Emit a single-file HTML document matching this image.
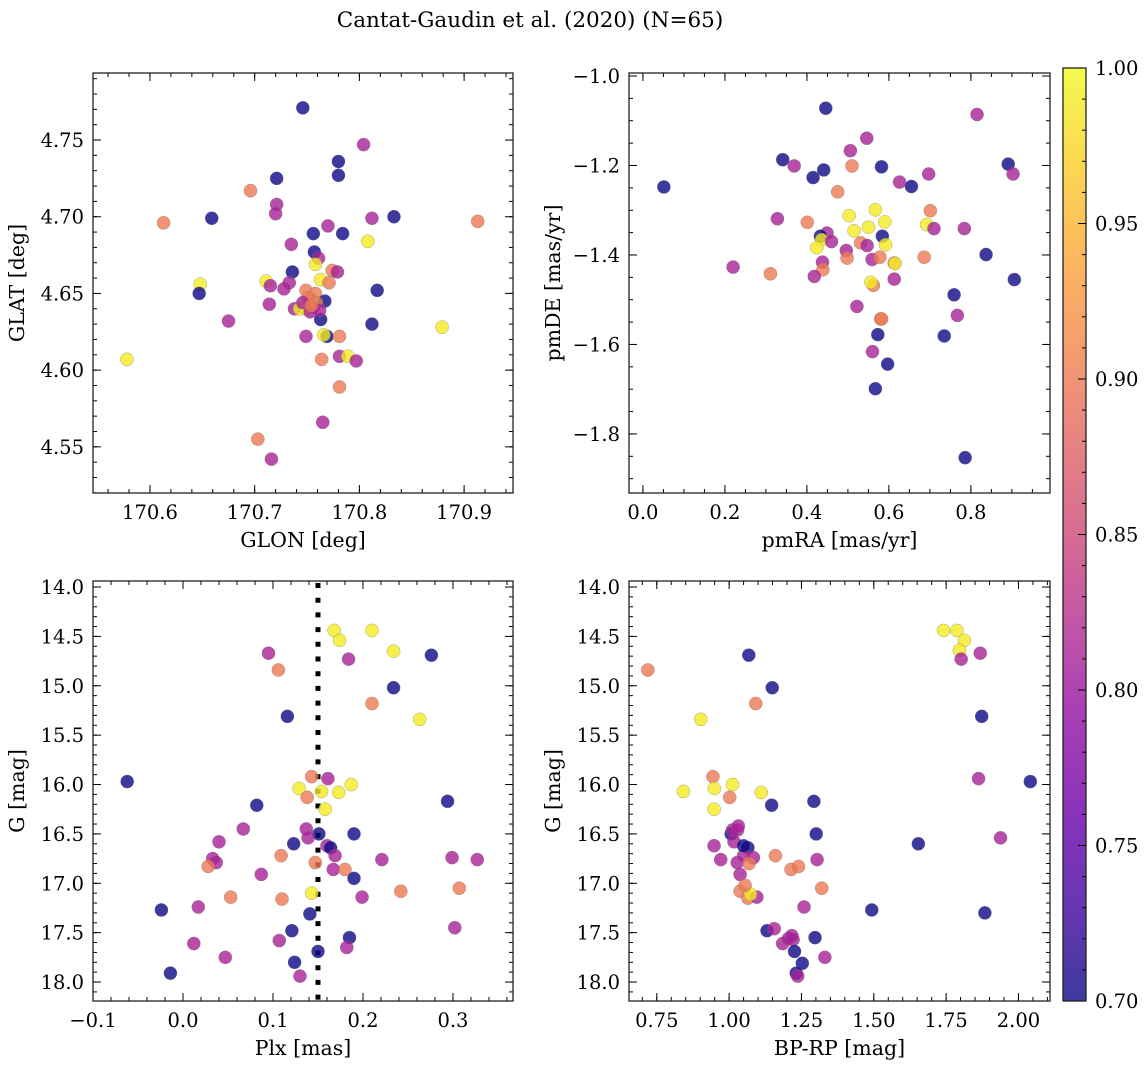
<!DOCTYPE html>
<html><head><meta charset="utf-8">
<style>
html,body{margin:0;padding:0;background:#fff;overflow:hidden;}
svg{display:block;font-family:"DejaVu Serif","Liberation Serif",serif;}
</style></head>
<body>
<svg id="chart" width="1148" height="1068" xmlns="http://www.w3.org/2000/svg">
<defs>
<linearGradient id="plasma" x1="0" y1="1" x2="0" y2="0">
<stop offset="0" stop-color="#0d0887"/><stop offset="0.1" stop-color="#41049d"/><stop offset="0.2" stop-color="#6a00a8"/><stop offset="0.3" stop-color="#8f0da4"/><stop offset="0.4" stop-color="#b12a90"/><stop offset="0.5" stop-color="#cc4778"/><stop offset="0.6" stop-color="#e16462"/><stop offset="0.7" stop-color="#f2844b"/><stop offset="0.8" stop-color="#fca636"/><stop offset="0.9" stop-color="#fcce25"/><stop offset="1" stop-color="#f0f921"/>
</linearGradient>
</defs>
<text x="530" y="27" font-size="21.5" text-anchor="middle">Cantat-Gaudin et al. (2020) (N=65)</text>
</svg>
<script>
const glon=[170.746,170.804,170.780,170.780,170.721,170.696,170.721,170.720,170.613,170.659,170.812,170.833,170.913,170.770,170.756,170.784,170.808,170.735,170.757,170.761,170.758,170.774,170.779,170.736,170.763,170.771,170.648,170.711,170.715,170.733,170.728,170.647,170.817,170.749,170.758,170.753,170.767,170.714,170.738,170.756,170.743,170.749,170.753,170.675,170.763,170.812,170.879,170.749,170.769,170.766,170.781,170.764,170.781,170.789,170.797,170.578,170.781,170.765,170.703,170.716,170.751,170.746,170.759,170.762,170.754];
const glat=[4.771,4.747,4.736,4.727,4.725,4.717,4.708,4.702,4.696,4.699,4.699,4.700,4.697,4.694,4.689,4.689,4.684,4.682,4.677,4.673,4.669,4.665,4.664,4.664,4.659,4.657,4.656,4.658,4.655,4.657,4.653,4.650,4.652,4.652,4.650,4.646,4.645,4.643,4.640,4.641,4.640,4.640,4.638,4.632,4.633,4.630,4.628,4.622,4.622,4.623,4.622,4.607,4.609,4.609,4.606,4.607,4.589,4.566,4.555,4.542,4.647,4.644,4.644,4.639,4.642];
const prob1=[0.70,0.81,0.70,0.70,0.70,0.90,0.81,0.81,0.90,0.70,0.81,0.70,0.90,0.81,0.70,0.70,0.99,0.81,0.70,0.81,0.99,0.90,0.81,0.70,0.99,0.90,0.99,0.99,0.81,0.81,0.81,0.70,0.70,0.90,0.90,0.90,0.70,0.81,0.81,0.81,0.99,0.99,0.81,0.81,0.70,0.70,0.99,0.81,0.70,0.99,0.90,0.90,0.81,0.99,0.81,0.99,0.90,0.81,0.90,0.81,0.90,0.81,0.90,0.81,0.90];
const pmra=[0.446,0.815,0.546,0.506,0.341,0.369,0.510,0.582,0.441,0.415,0.891,0.903,0.697,0.626,0.655,0.051,0.475,0.701,0.567,0.503,0.328,0.401,0.590,0.692,0.710,0.784,0.550,0.515,0.449,0.433,0.584,0.436,0.460,0.531,0.547,0.592,0.424,0.496,0.837,0.686,0.498,0.559,0.578,0.613,0.615,0.438,0.220,0.439,0.311,0.418,0.613,0.906,0.562,0.556,0.759,0.522,0.767,0.580,0.582,0.735,0.573,0.560,0.597,0.567,0.786];
const pmde=[-1.072,-1.086,-1.139,-1.167,-1.187,-1.201,-1.201,-1.203,-1.210,-1.227,-1.197,-1.219,-1.219,-1.237,-1.247,-1.248,-1.259,-1.301,-1.299,-1.312,-1.319,-1.327,-1.326,-1.332,-1.341,-1.341,-1.338,-1.346,-1.351,-1.358,-1.358,-1.366,-1.370,-1.373,-1.379,-1.377,-1.384,-1.390,-1.399,-1.405,-1.407,-1.410,-1.405,-1.418,-1.419,-1.416,-1.427,-1.433,-1.442,-1.448,-1.454,-1.455,-1.468,-1.461,-1.489,-1.515,-1.535,-1.543,-1.543,-1.581,-1.578,-1.616,-1.644,-1.699,-1.853];
const prob2=[0.70,0.81,0.81,0.81,0.70,0.81,0.90,0.70,0.70,0.70,0.70,0.81,0.81,0.81,0.70,0.70,0.90,0.90,0.99,0.99,0.81,0.90,0.99,0.99,0.81,0.81,0.99,0.99,0.81,0.70,0.70,0.99,0.81,0.90,0.81,0.99,0.99,0.81,0.70,0.90,0.90,0.81,0.90,0.90,0.99,0.81,0.81,0.90,0.90,0.81,0.81,0.70,0.90,0.99,0.70,0.81,0.81,0.90,0.90,0.70,0.70,0.81,0.70,0.70,0.70];
const plx=[0.168,0.210,0.174,0.234,0.095,0.276,0.184,0.106,0.234,0.210,0.116,0.263,-0.062,0.143,0.161,0.187,0.129,0.154,0.173,0.138,0.294,0.082,0.158,0.067,0.137,0.151,0.190,0.139,0.040,0.123,0.160,0.164,0.169,0.109,0.033,0.037,0.221,0.299,0.327,0.147,0.028,0.167,0.180,0.087,0.190,0.242,0.307,0.143,0.053,0.110,0.199,0.017,-0.024,0.141,0.302,0.121,0.185,0.012,0.107,0.182,0.150,0.047,0.124,-0.014,0.130];
const gmag3=[14.44,14.44,14.54,14.65,14.67,14.69,14.73,14.84,15.02,15.18,15.31,15.34,15.97,15.92,15.94,16.00,16.04,16.07,16.08,16.13,16.17,16.21,16.25,16.45,16.45,16.50,16.50,16.54,16.58,16.60,16.62,16.64,16.72,16.72,16.75,16.79,16.76,16.74,16.76,16.79,16.83,16.86,16.86,16.91,16.95,17.08,17.05,17.10,17.14,17.16,17.14,17.24,17.27,17.31,17.45,17.48,17.55,17.61,17.58,17.65,17.69,17.75,17.80,17.91,17.94];
const prob3=[0.99,0.99,0.99,0.99,0.81,0.70,0.81,0.90,0.70,0.90,0.70,0.99,0.70,0.90,0.81,0.99,0.99,0.99,0.99,0.90,0.70,0.70,0.99,0.81,0.81,0.70,0.70,0.81,0.81,0.70,0.81,0.70,0.81,0.90,0.81,0.81,0.81,0.81,0.81,0.90,0.90,0.81,0.90,0.81,0.70,0.90,0.90,0.99,0.90,0.90,0.81,0.81,0.70,0.70,0.81,0.70,0.70,0.81,0.81,0.81,0.70,0.81,0.70,0.70,0.81];
const plxLine=[0.15];
const bprp=[1.741,1.787,1.813,1.796,1.802,1.868,1.068,0.719,1.149,1.092,1.873,0.902,1.862,2.041,0.944,0.842,0.949,1.012,1.111,1.002,1.293,1.147,0.948,1.007,1.012,1.029,1.301,1.017,1.938,1.654,0.948,1.065,0.971,1.028,1.050,1.084,1.069,1.160,1.304,1.038,1.214,1.240,1.320,1.038,1.065,1.096,1.074,1.259,1.493,1.884,1.131,1.156,1.297,1.185,1.221,1.226,1.253,1.331,1.232,1.237,1.205,1.050,1.032,1.055,1.217];
const gmag4=[14.44,14.44,14.54,14.64,14.73,14.67,14.69,14.84,15.02,15.18,15.31,15.34,15.94,15.97,15.92,16.07,16.04,16.00,16.08,16.13,16.17,16.21,16.25,16.50,16.46,16.46,16.50,16.58,16.54,16.60,16.62,16.64,16.76,16.79,16.72,16.74,16.80,16.72,16.76,16.91,16.86,16.83,17.05,17.08,17.15,17.14,17.11,17.24,17.27,17.30,17.48,17.46,17.55,17.61,17.57,17.69,17.81,17.75,17.91,17.94,17.56,16.62,16.42,17.02,17.53];
const prob4=[0.99,0.99,0.99,0.99,0.81,0.81,0.70,0.90,0.70,0.90,0.70,0.99,0.81,0.70,0.90,0.99,0.99,0.99,0.99,0.90,0.70,0.70,0.99,0.70,0.81,0.81,0.70,0.81,0.81,0.70,0.81,0.70,0.81,0.81,0.81,0.81,0.90,0.90,0.81,0.81,0.90,0.90,0.90,0.90,0.90,0.81,0.99,0.81,0.70,0.70,0.70,0.81,0.70,0.81,0.81,0.70,0.70,0.81,0.70,0.81,0.81,0.70,0.81,0.90,0.81];
const p1xt=[170.6,170.7,170.8,170.9], p1yt=[4.55,4.60,4.65,4.70,4.75];
const p2xt=[0.0,0.2,0.4,0.6,0.8], p2yt=[-1.8,-1.6,-1.4,-1.2,-1.0];
const p3xt=[-0.1,0.0,0.1,0.2,0.3], gyt=[14.0,14.5,15.0,15.5,16.0,16.5,17.0,17.5,18.0];
const p4xt=[0.75,1.00,1.25,1.50,1.75,2.00];
const cbt=[0.70,0.75,0.80,0.85,0.90,0.95,1.00];

const NS='http://www.w3.org/2000/svg';
const svg=document.getElementById('chart');
function mk(tag,attrs,parent){const e=document.createElementNS(NS,tag);for(const k in attrs)e.setAttribute(k,attrs[k]);(parent||svg).appendChild(e);return e;}
const stops=[[13,8,135],[65,4,157],[106,0,168],[143,13,164],[177,42,144],[204,71,120],[225,100,98],[242,132,75],[252,166,54],[252,206,37],[240,249,33]];
function plasma(p){let t=(p-0.7)/0.3;t=Math.max(0,Math.min(1,t))*10;const i=Math.min(9,Math.floor(t)),f=t-i;const a=stops[i],b=stops[i+1];return 'rgb('+[0,1,2].map(k=>Math.round(a[k]+(b[k]-a[k])*f)).join(',')+')';}
const TFS=19.5, LFS=20.5;
function panel(cfg){
  const g=mk('g',{});
  
  
  const L=cfg.box[0],T=cfg.box[1],R=cfg.box[2],B=cfg.box[3];
  const sx=v=>L+(v-cfg.xd[0])/(cfg.xd[1]-cfg.xd[0])*(R-L);
  const sy=v=>B-(v-cfg.yd[0])/(cfg.yd[1]-cfg.yd[0])*(B-T);
  const tk=(x1,y1,x2,y2)=>mk('line',{x1,y1,x2,y2,stroke:'#000','stroke-width':1},g);
  const eps=1e-9;
  for(let v=Math.ceil(cfg.xd[0]/cfg.xm-eps)*cfg.xm;v<=cfg.xd[1]+eps;v+=cfg.xm){const x=sx(v);tk(x,B,x,B-4);tk(x,T,x,T+4);}
  const y0=Math.min(cfg.yd[0],cfg.yd[1]),y1=Math.max(cfg.yd[0],cfg.yd[1]);
  for(let v=Math.ceil(y0/cfg.ym-eps)*cfg.ym;v<=y1+eps;v+=cfg.ym){const y=sy(v);tk(L,y,L+4,y);tk(R,y,R-4,y);}
  cfg.xt.forEach(v=>{const x=sx(v);tk(x,B,x,B-8);tk(x,T,x,T+8);
    const t=mk('text',{x:x,y:B+26,'font-size':TFS,'text-anchor':'middle'},g);t.textContent=(v<0?'\u2212':'')+Math.abs(v).toFixed(cfg.xf);
    
    });
  cfg.yt.forEach(v=>{const y=sy(v);tk(L,y,L+8,y);tk(R,y,R-8,y);
    const t=mk('text',{x:L-9,y:y+7,'font-size':TFS,'text-anchor':'end'},g);t.textContent=(v<0?'\u2212':'')+Math.abs(v).toFixed(cfg.yf);
    
    });
  if(cfg.vline){cfg.vline.forEach(v=>{const x=sx(v);const l=mk('line',{x1:x,y1:T+2,x2:x,y2:B,stroke:'#000','stroke-width':5,'stroke-dasharray':'5 9.7'},g);
    
    });}
  cfg.xs.forEach((v,i)=>{const c=mk('circle',{cx:sx(v),cy:sy(cfg.ys[i]),r:6.6,fill:plasma(cfg.ps[i]),'fill-opacity':0.8,stroke:'#777','stroke-opacity':0.6,'stroke-width':0.5},g);
    
    });
  const fr=mk('rect',{x:L,y:T,width:R-L,height:B-T,fill:'none',stroke:'#222','stroke-width':1.3},g);
  
  
  const xl=mk('text',{x:(L+R)/2,y:B+54,'font-size':LFS,'text-anchor':'middle'},g);xl.textContent=cfg.xl;
  
  
  const yx=L-69, yy=(T+B)/2;
  const yl=mk('text',{x:yx,y:yy,'font-size':LFS,'text-anchor':'middle',transform:'rotate(-90 '+yx+' '+yy+')'},g);yl.textContent=cfg.yl;
  
  
}
panel({name:'glon-glat-panel',box:[93,73,513,493],xd:[170.5456,170.9467],yd:[4.5199,4.7937],xt:p1xt,yt:p1yt,xm:0.02,ym:0.01,xf:1,yf:2,xs:glon,ys:glat,ps:prob1,xl:'GLON [deg]',yl:'GLAT [deg]'});
panel({name:'pm-panel',box:[629,73,1050,493],xd:[-0.034,0.993],yd:[-1.932,-0.9933],xt:p2xt,yt:p2yt,xm:0.05,ym:0.05,xf:1,yf:1,xs:pmra,ys:pmde,ps:prob2,xl:'pmRA [mas/yr]',yl:'pmDE [mas/yr]'});
panel({name:'plx-g-panel',box:[93,581,513,1001],xd:[-0.1,0.3667],yd:[18.192,13.939],xt:p3xt,yt:gyt,xm:0.02,ym:0.1,xf:1,yf:1,xs:plx,ys:gmag3,ps:prob3,xl:'Plx [mas]',yl:'G [mag]',vline:plxLine});
panel({name:'color-g-panel',box:[629,581,1050,1001],xd:[0.654,2.109],yd:[18.192,13.939],xt:p4xt,yt:gyt,xm:0.05,ym:0.1,xf:2,yf:1,xs:bprp,ys:gmag4,ps:prob4,xl:'BP-RP [mag]',yl:'G [mag]'});
(function(){
  const g=mk('g',{});
  
  
  const L=1063,R=1086,T=68,B=1001;
  mk('rect',{x:L,y:T,width:R-L,height:B-T,fill:'url(#plasma)','fill-opacity':0.8},g);
  const sy=v=>B-(v-0.7)/0.3*(B-T);
  for(let i=0;i<=30;i++){const y=sy(0.7+i*0.01);mk('line',{x1:R,y1:y,x2:R-4,y2:y,stroke:'#000','stroke-width':1},g);}
  cbt.forEach(v=>{const y=sy(v);mk('line',{x1:R,y1:y,x2:R-8,y2:y,stroke:'#000','stroke-width':1},g);
    const t=mk('text',{x:R+9,y:y+7,'font-size':TFS},g);t.textContent=v.toFixed(2);
    
    });
  mk('rect',{x:L,y:T,width:R-L,height:B-T,fill:'none',stroke:'#222','stroke-width':1.3},g);
})();
</script>
</body></html>
